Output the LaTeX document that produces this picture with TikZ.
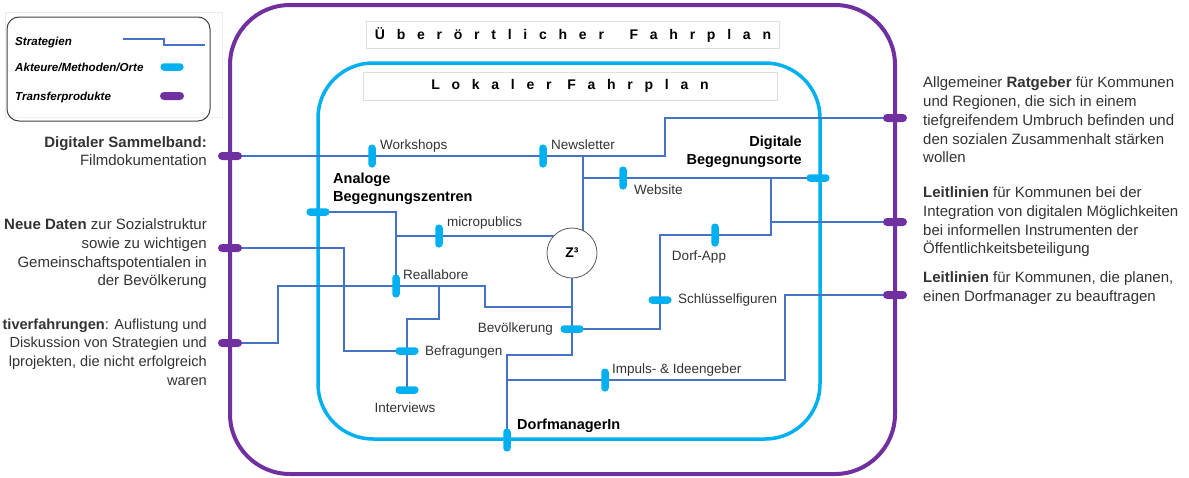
\documentclass[tikz,border=0pt]{standalone}
\usepackage{fontspec}
\setmainfont{Liberation Sans}
\usepackage{tikz}

\definecolor{stratblue}{HTML}{4472C4}
\definecolor{akteurcyan}{HTML}{00B0F0}
\definecolor{transpurple}{HTML}{7030A0}
\definecolor{txtgray}{HTML}{333333}

\tikzset{
	strat/.style={draw=stratblue, line width=1.6pt},
	akteurh/.style={fill=akteurcyan, rounded corners=3.5pt, minimum width=23pt, minimum height=7.5pt, inner sep=0pt},
	akteurv/.style={fill=akteurcyan, rounded corners=3.5pt, minimum width=7.5pt, minimum height=23pt, inner sep=0pt},
	transfer/.style={fill=transpurple, rounded corners=4pt, minimum width=24pt, minimum height=8pt, inner sep=0pt},
	lbl/.style={inner sep=0pt, text=txtgray, font=\fontsize{13.5}{16}\selectfont},
	side/.style={inner sep=0pt, text=txtgray, font=\fontsize{15}{18.7}\selectfont},
	head/.style={inner sep=0pt, text=black, font=\fontsize{14.5}{18.5}\selectfont\bfseries},
	legend/.style={inner sep=0pt, anchor=west, text=black, font=\fontsize{11.6}{13}\selectfont\bfseries\itshape},
	titlebox/.style={draw=gray!25, line width=0.5pt, inner sep=0pt, font=\fontsize{14}{16}\selectfont\bfseries\addfontfeatures{LetterSpace=84}}
}

\begin{document}
\begin{tikzpicture}[x=1pt, y=-1pt]
			\useasboundingbox (0,0) rectangle (1189,477);

			% Legende
			\draw [gray!15] (5,12) rectangle (222,117);
			\draw [gray!50!black, line width=1pt, rounded corners=12pt] (7,17) rectangle (210,121);
			\node [legend] (leg-s) at (15,42) {Strategien};
			\node [legend] (leg-a) at (15,67) {Akteure/Methoden/Orte};
			\node [legend] (leg-t) at (15,97) {Transferprodukte};
			\draw [stratblue, line width=1.2pt] (123,39) -- (164,39) -- (164,45) -- (205,45);
			\node [akteurh] (leg-am) at (172,67) {};
			\node [transfer] (leg-tm) at (172,96) {};

			% Rahmen
			\draw [transpurple, line width=4pt, rounded corners=60pt] (230,5) rectangle (895,474);
			\draw [akteurcyan, line width=3.5pt, rounded corners=55pt] (318,63) rectangle (820,439);

			\node [titlebox, minimum width=413pt, minimum height=27pt] (t-ueb) at (573,35) {Überörtlicher\hspace{10pt} Fahrplan};
			\node [titlebox, minimum width=414pt, minimum height=28pt] (t-lok) at (570,86) {Lokaler Fahrplan};

			% Transferprodukte
			\coordinate (tDS) at (230,156);
			\coordinate (tND) at (230,248);
			\coordinate (tNE) at (230,343);
			\coordinate (tRG) at (895,118);
			\coordinate (tLD) at (895,222);
			\coordinate (tLM) at (895,295);

			% Akteure, Methoden, Orte
			\coordinate (aAB) at (318,212);
			\coordinate (aDB) at (818,178);
			\coordinate (ws) at (372,156);
			\coordinate (nl) at (543,156);
			\coordinate (web) at (623,178);
			\coordinate (mp) at (439,236);
			\coordinate (rl) at (396,286);
			\coordinate (bf) at (407,351);
			\coordinate (iv) at (407,390);
			\coordinate (bv) at (572,329);
			\coordinate (da) at (715,235);
			\coordinate (sf) at (660,300);
			\coordinate (ii) at (605,380);
			\coordinate (dm) at (507,440);
			\coordinate (z) at (572,253);

			% Knickpunkte
			\coordinate (k1) at (583,156);
			\coordinate (k2) at (771,178);
			\coordinate (k3) at (485,286);
			\coordinate (k4) at (439,319);
			\coordinate (k5) at (572,355);
			\coordinate (k6) at (572,307);

			% Strategien
			\draw [strat] (tDS) -- (ws) -- (nl) -- ++(122,0) |- (tRG);
			\draw [strat] (k1) -- (k1 |- z);
			\draw [strat] (k1 |- web) -- (web) -- (aDB);
			\draw [strat] (k2) |- (da) -| (sf) |- (bv);
			\draw [strat] (k2 |- tLD) -- (tLD);
			\draw [strat] (aAB) -| (rl);
			\draw [strat] (rl |- mp) -- (mp) -- (mp -| z);
			\draw [strat] (tNE) -- ++(48,0) |- (rl) -- (k3) |- (k6);
			\draw [strat] (iv) |- (k4) -- (k4 |- rl);
			\draw [strat] (tND) -- ++(114,0) |- (bf);
			\draw [strat] (z) -- (k5) -| (dm);
			\draw [strat] (dm |- ii) -- (ii) -- ++(180,0) |- (tLM);

			\node [draw=gray!70!black, fill=white, circle, minimum size=50pt, inner sep=0pt, line width=0.8pt, font=\fontsize{14}{16}\selectfont\bfseries] (zz) at (z) {Z³};

			\foreach \p in {tDS,tND,tNE,tRG,tLD,tLM}
				\node [transfer] (m-\p) at (\p) {};
			\foreach \p in {aAB,aDB,bf,iv,bv,sf}
				\node [akteurh] (m-\p) at (\p) {};
			\foreach \p in {ws,nl,web,mp,rl,da,ii,dm}
				\node [akteurv] (m-\p) at (\p) {};

			% Beschriftungen
			\node [lbl, anchor=west] (l-ws) at (380,146) {Workshops};
			\node [lbl, anchor=west] (l-nl) at (551,145) {Newsletter};
			\node [lbl, anchor=west] (l-web) at (634,190) {Website};
			\node [lbl, anchor=west] (l-mp) at (447,223) {micropublics};
			\node [lbl, anchor=west] (l-rl) at (403,275) {Reallabore};
			\node [lbl] (l-da) at (699,257) {Dorf-App};
			\node [lbl, anchor=west] (l-sf) at (678,300) {Schlüsselfiguren};
			\node [lbl, anchor=east] (l-bv) at (553,329) {Bevölkerung};
			\node [lbl, anchor=west] (l-bf) at (425,352) {Befragungen};
			\node [lbl] (l-iv) at (405,408) {Interviews};
			\node [lbl, anchor=west] (l-ii) at (612,370) {Impuls- \& Ideengeber};
			\node [head, anchor=west] (l-dm) at (517,426) {DorfmanagerIn};
			\node [head, anchor=west, align=left] (l-ab) at (333,189) {Analoge\\Begegnungszentren};
			\node [head, anchor=east, align=right] (l-db) at (802,152) {Digitale\\Begegnungsorte};

			% Transfertexte
			\node [side, anchor=east, align=right] (s-ds) at (207,151) {\textbf{Digitaler Sammelband:}\\Filmdokumentation};
			\node [side, anchor=east, align=right] (s-nd) at (207,254) {\textbf{Neue Daten} zur Sozialstruktur\\sowie zu wichtigen\\Gemeinschaftspotentialen in\\der Bevölkerung};
			\node [side, anchor=east, align=right, font=\fontsize{14.6}{18.7}\selectfont] (s-ne) at (207,352) {\textbf{tiverfahrungen}: Auflistung und\\Diskussion von Strategien und\\lprojekten, die nicht erfolgreich\\waren};
			\node [side, anchor=west, align=left] (s-rg) at (923,120) {Allgemeiner \textbf{Ratgeber} für Kommunen\\und Regionen, die sich in einem\\tiefgreifendem Umbruch befinden und\\den sozialen Zusammenhalt stärken\\wollen};
			\node [side, anchor=west, align=left] (s-ld) at (923,222) {\textbf{Leitlinien} für Kommunen bei der\\Integration von digitalen Möglichkeiten\\bei informellen Instrumenten der\\Öffentlichkeitsbeteiligung};
			\node [side, anchor=west, align=left] (s-lm) at (923,288) {\textbf{Leitlinien} für Kommunen, die planen,\\einen Dorfmanager zu beauftragen};

		\end{tikzpicture}
\end{document}
